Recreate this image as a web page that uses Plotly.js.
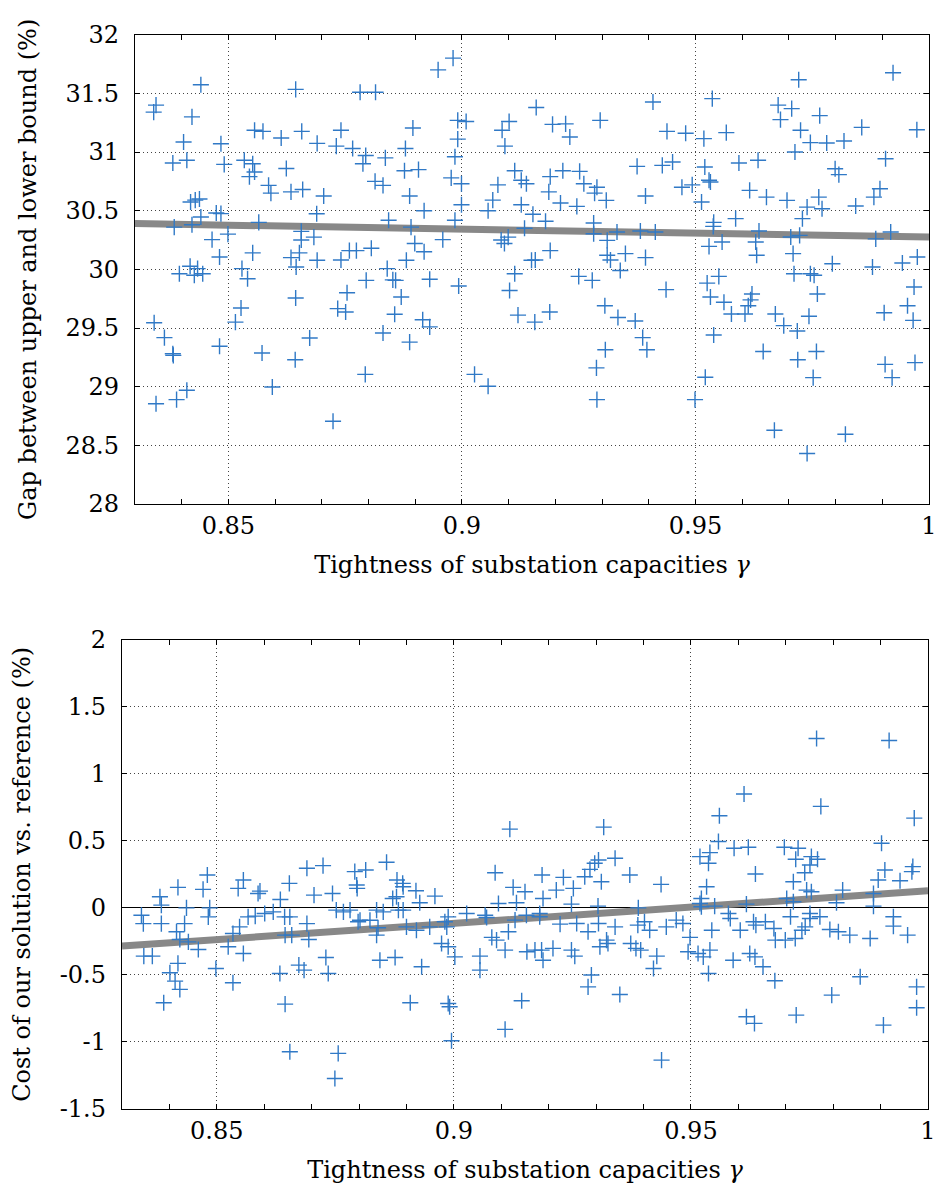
<!DOCTYPE html>
<html>
<head>
<meta charset="utf-8">
<script src="https://cdn.plot.ly/plotly-3.0.1.min.js"></script>
<style>html,body{margin:0;padding:0;background:#fff;}#chart{width:938px;height:1185px;}</style>
</head>
<body>
<div id="chart"></div>
<script>
// ---- Top panel: gap between upper and lower bound (%) ----
const topX = [
0.8441,0.8345,0.8340,0.8422,0.8404,0.8484,0.8381,0.8411,0.8491,0.8556,0.8574,0.8613,0.8657,0.8644,0.8690,0.8741,0.8731,0.8766,0.8782,0.8815,
0.8794,0.8788,0.8836,0.8879,0.8895,0.8877,0.8907,0.8949,0.8981,0.8991,0.9009,0.8991,0.8985,0.8977,0.8999,0.8534,0.8552,0.8545,0.8556,0.8586,
0.8591,0.8624,0.8634,0.8659,0.8704,0.8814,0.8831,0.8888,0.8919,0.8419,0.8429,0.8438,0.8384,0.8422,0.8441,0.8474,0.8484,0.8465,0.8481,0.8418,
0.8434,0.8499,0.8565,0.8552,0.8529,0.8656,0.8656,0.8683,0.8652,0.8634,0.8690,0.8645,0.8689,0.8741,0.8759,0.8774,0.8806,0.8840,0.8843,0.8891,
0.8899,0.8919,0.8881,0.8959,0.8985,0.8999,0.9056,0.9066,0.9077,0.9113,0.9127,0.9138,0.9127,0.9152,0.9134,0.9084,0.9099,0.9091,0.9149,0.9086,
0.9101,0.9092,0.9159,
0.8395,0.8427,0.8445,0.8541,0.8644,0.8754,0.8795,0.8852,0.8858,0.8870,0.8931,0.8993,0.9113,0.9102,0.9120,0.9156,0.8341,0.8363,0.8381,0.8382,
0.8481,0.8527,0.8515,0.8572,0.8643,0.8674,0.8734,0.8751,0.8856,0.8831,0.8888,0.8916,0.8931,0.8793,0.8594,0.8411,0.8389,0.8345,0.8724,0.9027,
0.9056,
0.9923,0.9721,0.9536,0.9409,0.9194,0.9222,0.9231,0.9296,0.9439,0.9479,0.9518,0.9566,0.9677,0.9706,0.9682,0.9725,0.9766,0.9746,0.9781,0.9818,
0.9856,0.9974,0.9713,0.9907,0.9375,0.9429,0.9451,0.9520,0.9529,0.9593,0.9634,0.9799,0.9807,0.9189,0.9216,0.9252,0.9261,0.9186,0.9289,0.9284,
0.9211,0.9246,0.9309,0.9393,0.9471,0.9493,0.9513,0.9532,0.9616,0.9652,0.9696,0.9739,0.9764,0.9771,0.9729,0.9843,0.9882,0.9895,0.9179,0.9282,
0.9282,0.9311,0.9332,0.9382,0.9414,0.9539,0.9538,0.9586,0.9636,0.9629,0.9631,0.9704,0.9723,0.9709,0.9886,0.9918,0.9529,0.9557,0.9189,0.9157,
0.9311,0.9318,0.9350,0.9393,0.9793,0.9879,0.9943,0.9975,
0.9250,0.9279,0.9339,0.9437,0.9525,0.9550,0.9532,0.9561,0.9577,0.9606,0.9613,0.9621,0.9618,0.9671,0.9689,0.9718,0.9743,0.9761,0.9746,0.9711,
0.9754,0.9968,0.9954,0.9966,0.9904,0.9188,0.9306,0.9334,0.9371,0.9387,0.9396,0.9307,0.9288,0.9289,0.9499,0.9521,0.9539,0.9645,0.9719,0.9759,
0.9752,0.9906,0.9921,0.9970,0.9669,0.9821,0.9739
];
const topY = [
31.574,31.40,31.34,31.30,31.085,31.07,30.906,30.93,30.895,31.185,31.176,31.12,31.176,31.534,31.074,31.185,31.05,31.03,31.51,31.51,
30.97,30.90,30.95,31.03,31.205,30.84,30.85,31.70,31.80,31.27,31.26,31.11,30.96,30.78,30.73,30.93,30.90,30.79,30.83,30.716,
30.65,30.86,30.66,30.68,30.625,30.75,30.716,30.625,30.50,30.574,30.59,30.60,30.36,30.38,30.446,30.48,30.475,30.253,30.105,30.026,
30.006,30.30,30.40,30.14,30.006,30.324,30.25,30.275,30.14,30.10,30.077,30.02,30.474,30.08,30.16,30.16,30.18,30.006,30.418,30.36,
30.22,30.15,30.077,30.253,30.418,30.55,30.50,30.59,30.72,30.84,30.76,30.73,30.55,30.47,30.35,30.25,30.275,30.22,30.077,31.185,
31.26,31.05,31.38,
29.963,29.95,29.963,29.92,29.756,29.80,29.906,29.91,29.906,29.764,29.915,29.858,29.963,29.82,29.61,29.55,29.545,29.418,29.28,29.267,
29.344,29.67,29.55,29.287,29.23,29.415,29.665,29.636,29.617,29.457,29.38,29.57,29.51,29.105,28.997,28.97,28.89,28.855,28.705,29.105,
29.003,
31.676,31.616,31.455,31.426,31.236,31.24,31.128,31.27,31.176,31.16,31.114,31.165,31.40,31.37,31.276,31.185,31.31,31.08,31.077,31.094,
31.21,31.19,31.0,30.943,30.878,30.886,30.915,30.872,30.76,30.906,30.93,30.858,30.807,30.79,30.84,30.835,30.73,30.66,30.70,30.65,
30.565,30.537,30.588,30.625,30.70,30.72,30.574,30.744,30.673,30.616,30.588,30.53,30.616,30.517,30.432,30.54,30.616,30.687,30.41,30.395,
30.304,30.247,30.318,30.327,30.318,30.40,30.366,30.432,30.327,30.233,30.12,30.276,30.29,30.134,30.26,30.318,30.196,30.233,30.16,30.08,
30.12,30.08,30.134,30.10,30.048,30.02,30.054,30.105,
29.94,29.906,29.99,29.827,29.883,29.94,29.764,29.72,29.62,29.62,29.69,29.79,29.74,29.62,29.52,29.474,29.60,29.79,29.963,29.963,
29.95,29.85,29.69,29.565,29.63,29.636,29.69,29.59,29.56,29.418,29.315,29.315,29.16,28.89,28.89,29.08,29.44,29.30,29.23,29.30,
29.077,29.19,29.077,29.205,28.628,28.594,28.43
];
const topFitX = [0.83, 1.0];
const topFitY = [30.39, 30.275];

// ---- Bottom panel: cost of our solution vs. reference (%) ----
const botX = [
0.9118,0.9087,0.9125,0.9150,0.9094,0.9132,0.8858,0.8724,0.8690,0.8791,0.8814,0.8795,0.8796,0.8880,0.8892,0.8893,0.8920,0.8879,0.8871,0.8928,
0.8960,0.8744,0.8705,0.8653,0.8634,0.8587,0.8591,0.8556,0.8545,0.8480,0.8471,0.8418,0.8380,0.8383,0.8436,0.8341,0.8345,0.8383,0.8432,0.8482,
0.8485,0.8566,0.8601,0.8619,0.8643,0.8654,0.8690,0.8752,0.8767,0.8781,0.8802,0.8823,0.8837,0.8851,0.8883,0.8988,0.9027,0.9069,
0.8415,0.8422,0.8440,0.8461,0.8346,0.8364,0.8418,0.8401,0.8412,0.8422,0.8388,0.8498,0.8524,0.8534,0.8548,0.8556,0.8534,0.8581,0.8644,0.8658,
0.8694,0.8633,0.8673,0.8684,0.8730,0.8735,0.8644,0.8654,0.8756,0.8749,0.8798,0.8840,0.8837,0.8893,0.8900,0.8921,0.8949,0.8981,0.8985,0.8974,
0.8988,0.9002,0.8844,0.8876,0.8932,0.8908,0.8988,0.8991,0.8995,0.9055,0.9055,0.9080,0.9090,0.9108,0.9115,0.9129,0.9154,0.9143,0.9108,0.9066,
0.9765,0.9918,0.9612,0.9774,0.9971,0.9560,0.9316,0.9558,0.9902,0.9519,0.9540,0.9537,0.9591,0.9621,0.9697,0.9726,0.9721,0.9754,0.9767,0.9751,
0.9740,0.9636,0.9716,0.9744,0.9754,0.9820,0.9909,0.9895,0.9941,0.9968,0.9966,0.9885,0.9885,0.9807,0.9702,0.9716,0.9617,0.9533,0.9522,0.9522,
0.9550,0.9340,0.9305,0.9297,0.9287,0.9276,0.9311,0.9371,0.9437,0.9186,0.9231,0.9216,0.9252,0.9188,0.9248,0.9304,0.9389,0.9181,0.9153,
0.9181,0.9224,0.9259,0.9283,0.9305,0.9340,0.9388,0.9402,0.9413,0.9448,0.9469,0.9483,0.9498,0.9519,0.9544,0.9579,0.9583,0.9604,0.9632,0.9637,
0.9657,0.9675,0.9678,0.9699,0.9710,0.9720,0.9734,0.9741,0.9751,0.9751,0.9772,0.9793,0.9811,0.9835,0.9878,0.9927,0.9927,0.9957,
0.9171,0.9185,0.9188,0.9209,0.9248,0.9255,0.9308,0.9322,0.9325,0.9373,0.9384,0.9394,0.9428,0.9421,0.9494,0.9515,0.9526,0.9540,0.9537,0.9589,
0.9624,0.9635,0.9652,0.9677,0.9857,0.9797,0.9290,0.9283,0.9350,0.9976,0.9976,0.9906,0.9722,0.9617,0.9634,0.9438
];
const botY = [
0.5875,0.2625,0.1525,0.12,0.0325,0.0375,0.34,0.315,0.295,0.27,0.2825,0.17,0.145,0.2075,0.1825,0.1575,0.1275,0.0825,0.07,0.0375,
0.0875,0.1075,0.095,0.1825,0.0625,0.1075,0.125,0.2075,0.145,0.245,0.1375,0.1525,0.0825,0.02,0.0,-0.055,-0.118,-0.118,-0.118,-0.0675,
0.0,-0.0675,-0.0425,-0.03,-0.0675,-0.0675,-0.118,-0.0175,-0.03,-0.0175,-0.0925,-0.0925,-0.0175,-0.03,-0.0175,-0.0675,-0.0425,-0.0725,
-0.179,-0.236,-0.254,-0.311,-0.361,-0.361,-0.415,-0.485,-0.547,-0.609,-0.709,-0.453,-0.291,-0.192,-0.142,-0.341,-0.56,-0.062,-0.204,-0.204,
-0.236,-0.49,-0.428,-0.465,-0.371,-0.49,-0.719,-1.075,-1.087,-1.274,-0.104,-0.149,-0.204,-0.017,-0.142,-0.167,-0.142,-0.104,-0.142,-0.266,
-0.291,-0.366,-0.391,-0.371,-0.44,-0.709,-0.714,-0.739,-0.993,-0.361,-0.465,-0.221,-0.241,-0.316,-0.179,-0.092,-0.328,-0.694,-0.908,-0.055,
1.265,1.25,0.85,0.7575,0.67,0.6875,0.6025,0.495,0.4825,0.3825,0.4125,0.3325,0.445,0.4525,0.4525,0.445,0.3625,0.3825,0.3625,0.32,
0.2625,0.2525,0.195,0.1325,0.12,0.1325,0.2825,0.2075,0.2025,0.3075,0.27,0.1075,0.0125,0.0375,0.07,0.045,0.0275,0.1575,0.07,0.0075,
0.0125,0.37,0.3575,0.3325,0.2875,0.2325,0.195,0.245,0.175,0.245,0.2275,0.1325,0.145,0.07,0.0275,0.0125,0.0,-0.0425,-0.055,
-0.067,-0.122,-0.117,-0.179,-0.117,-0.142,-0.129,-0.104,-0.167,-0.142,-0.092,-0.117,-0.221,0.032,-0.167,-0.042,-0.08,-0.167,-0.104,-0.129,
-0.104,-0.154,-0.241,-0.241,-0.067,-0.229,-0.167,-0.142,-0.042,-0.08,-0.067,-0.162,-0.179,-0.204,-0.229,-0.067,-0.137,-0.204,
-0.316,-0.316,-0.391,-0.303,-0.316,-0.361,-0.291,-0.241,-0.266,-0.266,-0.303,-0.316,-0.361,-0.453,-0.328,-0.341,-0.366,-0.316,-0.49,-0.391,
-0.341,-0.366,-0.44,-0.545,-0.515,-0.652,-0.502,-0.59,-0.647,-0.59,-0.746,-0.876,-0.801,-0.813,-0.863,-1.137
];
const botFitX = [0.83, 1.0];
const botFitY = [-0.286, 0.127];
const botTickVals = [-1.5, -1, -0.5, 0, 0.5, 1, 1.5, 2];
const botTickText = ['-1.5', '-1', '-0.5', '0', '0.5', '1', '1.5', '2'];

const xTitle = 'Tightness of substation capacities <i>γ</i>';
const topYTitle = 'Gap between upper and lower bound (%)';
const botYTitle = 'Cost of our solution vs. reference (%)';

const FONT = 'DejaVu Serif';
const markerStyle = {symbol: 'cross-thin', size: 11.5, line: {color: '#3079c6', width: 1.4}};
const fitStyle = {color: '#888888', width: 7};

const data = [
  {x: topFitX, y: topFitY, xaxis: 'x', yaxis: 'y', mode: 'lines', line: fitStyle, hoverinfo: 'skip'},
  {x: topX, y: topY, xaxis: 'x', yaxis: 'y', mode: 'markers', marker: markerStyle},
  {x: botFitX, y: botFitY, xaxis: 'x2', yaxis: 'y2', mode: 'lines', line: fitStyle, hoverinfo: 'skip'},
  {x: botX, y: botY, xaxis: 'x2', yaxis: 'y2', mode: 'markers', marker: markerStyle}
];

const GRIDDASH = '1px,3px';

function xAxis(domain, anchor) {
  return {
    domain: domain, anchor: anchor, range: [0.83, 1.0], dtick: 0.05, tick0: 0,
    ticks: 'inside', ticklen: 5, tickwidth: 1, tickcolor: '#000',
    showline: true, linecolor: '#000', linewidth: 1.2, mirror: 'ticks',
    showgrid: true, gridcolor: '#444', griddash: GRIDDASH, gridwidth: 1,
    zeroline: false, automargin: false,
    minor: {dtick: 0.01, tick0: 0, ticks: 'inside', ticklen: 5, tickwidth: 1, tickcolor: '#000', showgrid: false},
    tickfont: {family: FONT, size: 24, color: '#000'},
    ticklabelstandoff: 0,
    title: {text: xTitle, font: {family: FONT, size: 24, color: '#000'}, standoff: 17}
  };
}
function yAxis(domain, anchor, range, title) {
  return {
    domain: domain, anchor: anchor, range: range, dtick: 0.5, tick0: 0,
    ticks: 'inside', ticklen: 5, tickwidth: 1, tickcolor: '#000',
    showline: true, linecolor: '#000', linewidth: 1.2, mirror: 'ticks',
    showgrid: true, gridcolor: '#444', griddash: GRIDDASH, gridwidth: 1,
    zeroline: false, automargin: false,
    tickfont: {family: FONT, size: 24, color: '#000'},
    ticklabelstandoff: 10,
    title: {text: title, font: {family: FONT, size: 24, color: '#000'}, standoff: 22}
  };
}

const yTop = yAxis([1 - 504 / 1185, 1 - 34.7 / 1185], 'x', [28, 32], topYTitle);
const yBot = yAxis([1 - 1108.7 / 1185, 1 - 640 / 1185], 'x2', [-1.5, 2], botYTitle);
yBot.tickmode = 'array';
yBot.tickvals = botTickVals;
yBot.ticktext = botTickText;
yBot.zeroline = true;
yBot.zerolinecolor = '#000';
yBot.zerolinewidth = 1;

const layout = {
  width: 938, height: 1185,
  margin: {l: 0, r: 0, t: 0, b: 0},
  paper_bgcolor: '#fff', plot_bgcolor: '#fff',
  showlegend: false,
  font: {family: FONT, size: 24, color: '#000'},
  xaxis: xAxis([135 / 938, 929 / 938], 'y'),
  yaxis: yTop,
  xaxis2: xAxis([122 / 938, 928 / 938], 'y2'),
  yaxis2: yBot
};

Plotly.newPlot('chart', data, layout, {staticPlot: true, displayModeBar: false});
</script>
</body>
</html>
